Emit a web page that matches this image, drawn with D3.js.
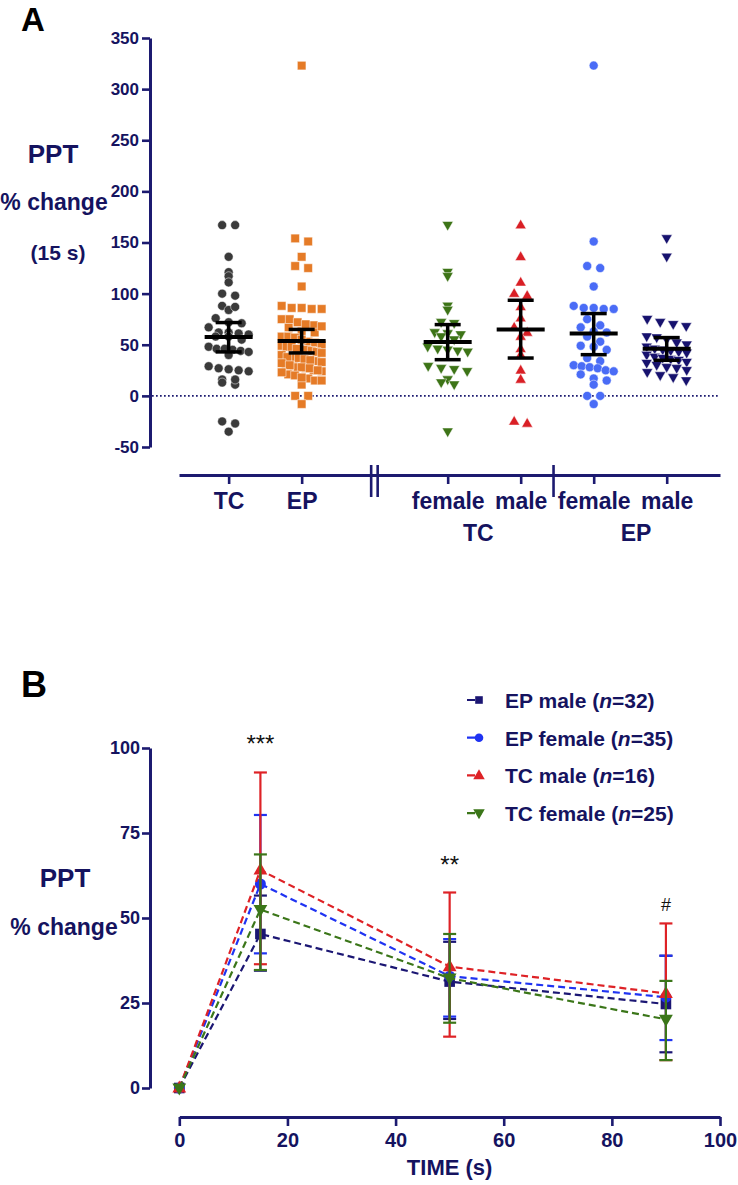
<!DOCTYPE html>
<html>
<head>
<meta charset="utf-8">
<script src="https://cdn.jsdelivr.net/npm/d3@7"></script>
<style>
	body { margin: 0; background: #fff; }
	svg { display: block; font-family: 'Liberation Sans', Arial, sans-serif; }
</style>
</head>
<body>
<svg id="chart" width="738" height="1185"></svg>
<script>
(function(){
	'use strict';

	// ---- panel A : individual % change at 15 s ----
	var groupLabels = ['TC', 'EP', 'female', 'male', 'female', 'male'];
	var groupPos = [0, 1, 3, 4, 5, 6];
	var subLabels = ['TC', 'EP'];
	var yTicksA = [-50, 0, 50, 100, 150, 200, 250, 300, 350];

	var tcFemale = [167, 121, 117, 88, 84, 72, 71, 62, 61, 60, 58, 55, 48, 46, 45, 44, 43, 29, 27, 26, 24, 16, 13, 11, -35];
	var tcMale = [167, 136, 111, 100, 98, 87, 76, 67, 62, 58, 46, 40, 25, 16, -25, -27];
	var epFemale = [323, 151, 127, 125, 107, 88, 86, 86, 85, 85, 75, 69, 67, 63, 62, 58, 53, 49, 48, 45, 37, 34, 30, 29, 28, 27, 25, 24, 21, 17, 15, 11, 0, 0, -8];
	var epMale = [154, 136, 75, 72, 70, 68, 58, 57, 55, 52, 50, 48, 46, 45, 44, 43, 42, 40, 38, 37, 36, 35, 33, 32, 30, 28, 27, 25, 23, 20, 18, 15];

	var meanA = [57.5, 53.7, 52.7, 65, 60.9, 46.2];
	var loA = [43, 42, 35.4, 37, 40.3, 34.8];
	var hiA = [71.7, 65, 69.7, 93.5, 80.5, 57];

	// ---- panel B : time course ----
	var times = [0, 15, 50, 90];
	var seriesNames = ['EP male', 'EP female', 'TC male', 'TC female'];
	var seriesN = [32, 35, 16, 25];
	var epMaleMean = [0, 45.3, 31.3, 24.7];
	var epMaleLo = [0, 34.5, 20.3, 10.5];
	var epMaleHi = [0, 56.6, 43, 38.9];
	var epFemaleMean = [0, 60, 32.9, 26.7];
	var epFemaleLo = [0, 39.6, 21, 14.1];
	var epFemaleHi = [0, 80.3, 43.8, 38.9];
	var tcMaleMean = [0, 64.1, 35.7, 27.8];
	var tcMaleLo = [0, 36.4, 15.1, 8.2];
	var tcMaleHi = [0, 92.8, 57.5, 48.4];
	var tcFemaleMean = [0, 52.5, 32.3, 20.2];
	var tcFemaleLo = [0, 34.7, 19.2, 8.2];
	var tcFemaleHi = [0, 68.7, 45.3, 31.5];
	var xTicksB = [0, 20, 40, 60, 80, 100];
	var yTicksB = [0, 25, 50, 75, 100];
	var annotTimes = [15, 50, 90];
	var annotLabels = ['***', '**', '#'];

	var navy = '#1c1a70';
	var textNavy = '#15135f';

	var svg = d3.select('#chart');

	function styleAxis(sel, fs){
		sel.attr('font-family', null).attr('font-size', null);
		sel.select('.domain').attr('stroke', navy).attr('stroke-width', 3);
		sel.selectAll('.tick line').attr('stroke', navy).attr('stroke-width', 2.6);
		sel.selectAll('.tick text')
			.attr('fill', textNavy)
			.style('font-size', fs + 'px')
			.style('font-weight', 'bold');
	}

	function shapePath(shape, s){
		if (shape === 'circle') return d3.symbol(d3.symbolCircle, Math.PI * s * s)();
		if (shape === 'square') return 'M' + (-s) + ',' + (-s) + 'h' + (2*s) + 'v' + (2*s) + 'h' + (-2*s) + 'Z';
		var w = s * 1.15, h = s;
		if (shape === 'up') return 'M0,' + (-h*0.62) + 'L' + w/2 + ',' + (h*0.38) + 'L' + (-w/2) + ',' + (h*0.38) + 'Z';
		return 'M0,' + (h*0.62) + 'L' + w/2 + ',' + (-h*0.38) + 'L' + (-w/2) + ',' + (-h*0.38) + 'Z';
	}

	// ================= PANEL A =================
	var xA = d3.scaleLinear().domain([-0.68, 6.73]).range([179, 720]);
	var yA = d3.scaleLinear().domain([-50, 350]).range([447, 38]);

	svg.append('text').attr('x', 21).attr('y', 31)
		.style('font-size', '33px').style('font-weight', 'bold').attr('fill', '#000')
		.text('A');

	var titleA = [['PPT', 53, 163, 26], ['% change', 54, 210, 23], ['(15 s)', 58, 260, 21]];
	svg.selectAll('.titleA').data(titleA).enter().append('text')
		.attr('class', 'titleA')
		.attr('x', (d) => d[1]).attr('y', (d) => d[2])
		.attr('text-anchor', 'middle')
		.attr('fill', textNavy)
		.style('font-weight', 'bold')
		.style('font-size', (d) => d[3] + 'px')
		.text((d) => d[0]);

	svg.append('g')
		.attr('transform', 'translate(150,0)')
		.call(d3.axisLeft(yA).tickValues(yTicksA).tickFormat(String)
			.tickSize(8).tickPadding(3).tickSizeOuter(0))
		.call(styleAxis, 17);

	svg.append('g')
		.attr('transform', 'translate(0,475)')
		.call(d3.axisBottom(xA).tickValues(groupPos).tickSize(9).tickPadding(9)
			.tickFormat((d, i) => groupLabels[i]).tickSizeOuter(0))
		.call(styleAxis, 23);

	// axis break and divider
	[xA(2) - 3.5, xA(2) + 3, xA(4.45)].forEach(function(x){
		svg.append('line')
			.attr('x1', x).attr('x2', x).attr('y1', 465).attr('y2', 497)
			.attr('stroke', navy).attr('stroke-width', 2.6);
	});

	svg.selectAll('.subLabel').data(subLabels).enter().append('text')
		.attr('class', 'subLabel')
		.attr('x', (d, i) => i === 0 ? xA(3.42) : xA(5.58))
		.attr('y', 541)
		.attr('text-anchor', 'middle')
		.attr('fill', textNavy)
		.style('font-size', '23px').style('font-weight', 'bold')
		.text((d) => d);

	// zero line
	svg.append('line')
		.attr('x1', 152).attr('x2', 720)
		.attr('y1', yA(0)).attr('y2', yA(0))
		.attr('stroke', navy).attr('stroke-width', 1.7)
		.attr('stroke-dasharray', '1.7,2.3');

	var groupValues = [tcFemale.concat(tcMale), epFemale.concat(epMale), tcFemale, tcMale, epFemale, epMale];
	var groupShapes = ['circle', 'square', 'down', 'up', 'circle', 'down'];
	var groupSizes = [4.5, 4.3, 9.6, 9.6, 4.5, 9.6];
	var groupColors = ['#3a3a3a', '#e57b27', '#3d7417', '#d91f25', '#4a6cf6', '#17126e'];

	// GraphPad style scatter: rows of points spread sideways
	function spread(vals){
		var rows = {};
		vals.forEach(function(v, i){
			var k = Math.floor((yA(v) - 30) / 9);
			(rows[k] = rows[k] || []).push(i);
		});
		var out = vals.map((v) => ({v: v, dx: 0}));
		Object.keys(rows).forEach(function(k){
			var idx = rows[k].sort((a, b) => vals[b] - vals[a]);
			var n = idx.length;
			if (n < 2) return;
			var s = Math.min(13, 40 / (n - 1));
			idx.forEach(function(i, j){ out[i].dx = (j - (n - 1) / 2) * s; });
		});
		return out;
	}

	groupValues.forEach(function(vals, g){
		var cx = xA(groupPos[g]);
		svg.append('g')
			.selectAll('path')
			.data(spread(vals))
			.enter()
			.append('path')
				.attr('d', shapePath(groupShapes[g], groupSizes[g]))
				.attr('transform', (d) => 'translate(' + (cx + d.dx) + ',' + yA(d.v) + ')')
				.attr('fill', groupColors[g])
				.attr('stroke', '#fff')
				.attr('stroke-width', 0.5);
	});

	// mean and 95% CI
	var barsA = svg.append('g').attr('stroke', '#000');
	groupPos.forEach(function(p, g){
		var cx = xA(p);
		barsA.append('line').attr('x1', cx - 24).attr('x2', cx + 24)
			.attr('y1', yA(meanA[g])).attr('y2', yA(meanA[g])).attr('stroke-width', 4);
		barsA.append('line').attr('x1', cx).attr('x2', cx)
			.attr('y1', yA(loA[g])).attr('y2', yA(hiA[g])).attr('stroke-width', 3.5);
		[loA[g], hiA[g]].forEach(function(v){
			barsA.append('line').attr('x1', cx - 13).attr('x2', cx + 13)
				.attr('y1', yA(v)).attr('y2', yA(v)).attr('stroke-width', 3.5);
		});
	});

	// ================= PANEL B =================
	var xB = d3.scaleLinear().domain([0, 100]).range([179.3, 720]);
	var yB = d3.scaleLinear().domain([0, 100]).range([1088, 748]);

	svg.append('text').attr('x', 21).attr('y', 697)
		.style('font-size', '36px').style('font-weight', 'bold').attr('fill', '#000')
		.text('B');

	var titleB = [['PPT', 65, 887, 26], ['% change', 64, 935, 23]];
	svg.selectAll('.titleB').data(titleB).enter().append('text')
		.attr('class', 'titleB')
		.attr('x', (d) => d[1]).attr('y', (d) => d[2])
		.attr('text-anchor', 'middle')
		.attr('fill', textNavy)
		.style('font-weight', 'bold')
		.style('font-size', (d) => d[3] + 'px')
		.text((d) => d[0]);

	svg.append('g')
		.attr('transform', 'translate(150,0)')
		.call(d3.axisLeft(yB).tickValues(yTicksB).tickSize(8).tickPadding(2).tickSizeOuter(0))
		.call(styleAxis, 18);

	svg.append('g')
		.attr('transform', 'translate(0,1117)')
		.call(d3.axisBottom(xB).tickValues(xTicksB).tickSize(9).tickPadding(7).tickSizeOuter(0))
		.call(styleAxis, 20);

	svg.append('text')
		.attr('x', xB(50)).attr('y', 1175)
		.attr('text-anchor', 'middle')
		.attr('fill', textNavy)
		.style('font-size', '22px').style('font-weight', 'bold')
		.text('TIME (s)');

	var seriesMean = [epMaleMean, epFemaleMean, tcMaleMean, tcFemaleMean];
	var seriesLo = [epMaleLo, epFemaleLo, tcMaleLo, tcFemaleLo];
	var seriesHi = [epMaleHi, epFemaleHi, tcMaleHi, tcFemaleHi];
	var seriesColors = ['#1b1673', '#1f33f2', '#de2226', '#3b7619'];
	var seriesShapes = ['square', 'circle', 'up', 'down'];
	var seriesSizes = [5.3, 5.5, 12, 12];
	var legendSizes = [3.8, 4.3, 10, 10];

	var line = d3.line().x((d) => xB(d[0])).y((d) => yB(d[1]));

	seriesMean.forEach(function(means, s){
		var g = svg.append('g');
		var pts = times.map((t, i) => [t, means[i], seriesLo[s][i], seriesHi[s][i]]);

		g.append('path')
			.attr('d', line(pts))
			.attr('fill', 'none')
			.attr('stroke', seriesColors[s])
			.attr('stroke-width', 2.2)
			.attr('stroke-dasharray', '7,4');

		var eb = g.selectAll('.eb').data(pts.filter((d) => d[3] > d[2])).enter().append('g')
			.attr('stroke', seriesColors[s]).attr('stroke-width', 2.2);
		eb.append('line')
			.attr('x1', (d) => xB(d[0])).attr('x2', (d) => xB(d[0]))
			.attr('y1', (d) => yB(d[2])).attr('y2', (d) => yB(d[3]));
		eb.append('line')
			.attr('x1', (d) => xB(d[0]) - 6.5).attr('x2', (d) => xB(d[0]) + 6.5)
			.attr('y1', (d) => yB(d[2])).attr('y2', (d) => yB(d[2]));
		eb.append('line')
			.attr('x1', (d) => xB(d[0]) - 6.5).attr('x2', (d) => xB(d[0]) + 6.5)
			.attr('y1', (d) => yB(d[3])).attr('y2', (d) => yB(d[3]));

		g.selectAll('.mk').data(pts).enter().append('path')
			.attr('d', shapePath(seriesShapes[s], seriesSizes[s]))
			.attr('transform', (d) => 'translate(' + xB(d[0]) + ',' + yB(d[1]) + ')')
			.attr('fill', seriesColors[s]);
	});

	// significance marks
	svg.selectAll('.annot').data(annotTimes).enter().append('text')
		.attr('class', 'annot')
		.attr('x', (d) => xB(d))
		.attr('y', function(d, i){
			var k = times.indexOf(d);
			var top = d3.max(seriesHi, (h) => h[k]);
			return yB(top) + (annotLabels[i] === '#' ? -12 : -20);
		})
		.attr('text-anchor', 'middle')
		.attr('fill', '#111')
		.style('font-size', (d, i) => annotLabels[i] === '#' ? '18px' : '24px')
		.text((d, i) => annotLabels[i]);

	// legend
	var legend = svg.append('g')
		.selectAll('g')
		.data(seriesNames)
		.enter()
		.append('g')
			.attr('transform', (d, i) => 'translate(0,' + (700 + i * 37.7) + ')');

	legend.append('line')
		.attr('x1', 467).attr('x2', 493).attr('y1', 0).attr('y2', 0)
		.attr('stroke', (d, i) => seriesColors[i])
		.attr('stroke-width', 2.2)
		.attr('stroke-dasharray', '8,4,3,20');
	legend.append('path')
		.attr('d', (d, i) => shapePath(seriesShapes[i], legendSizes[i]))
		.attr('transform', 'translate(479,0)')
		.attr('fill', (d, i) => seriesColors[i]);

	var lt = legend.append('text')
		.attr('x', 505).attr('y', 8)
		.attr('fill', textNavy)
		.style('font-size', '21px').style('font-weight', 'bold');
	lt.append('tspan').text((d) => d + ' (');
	lt.append('tspan').style('font-style', 'italic').text('n');
	lt.append('tspan').text((d, i) => '=' + seriesN[i] + ')');

})();
</script>
</body>
</html>
